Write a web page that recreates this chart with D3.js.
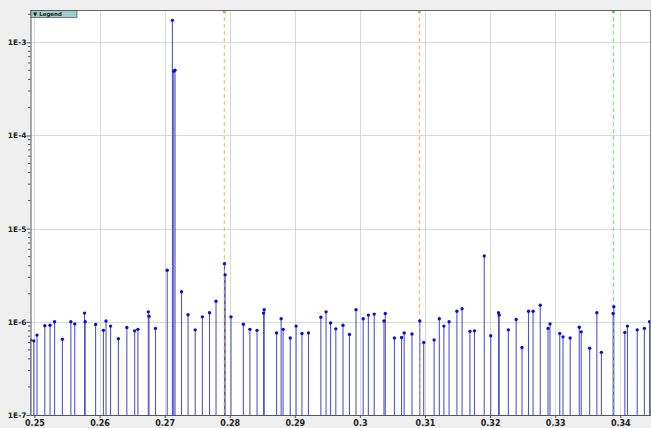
<!DOCTYPE html>
<html>
<head>
<meta charset="utf-8">
<script src="https://cdn.jsdelivr.net/npm/d3@7"></script>
<style>
  body { margin: 0; background: #efefef; }
  svg { display: block; }
  .axis text { font-family: "DejaVu Sans", sans-serif; font-weight: bold; fill: #222; }
  .axis path, .axis line { stroke: #555; }
</style>
</head>
<body>
<script>
// peak positions (x) and intensities (y)
var positions = [0.2494, 0.2499, 0.2504, 0.2516, 0.2524, 0.2531, 0.2543, 0.2556, 0.2562, 0.2577,
  0.2578, 0.2594, 0.2606, 0.2610, 0.2617, 0.2629, 0.2642, 0.2654, 0.2659, 0.2675,
  0.2676, 0.2686, 0.2704, 0.2712, 0.2714, 0.2716, 0.2726, 0.2736, 0.2747, 0.2758, 0.2769,
  0.2779, 0.2792, 0.2793, 0.2802, 0.2821, 0.2831, 0.2842, 0.2852, 0.2853, 0.2872,
  0.2879, 0.2882, 0.2893, 0.2902, 0.2911, 0.2921, 0.2940, 0.2948, 0.2955, 0.2963,
  0.2974, 0.2984, 0.2994, 0.3005, 0.3013, 0.3022, 0.3037, 0.3039, 0.3053, 0.3064,
  0.3068, 0.3080, 0.3092, 0.3098, 0.3114, 0.3122, 0.3129, 0.3137, 0.3149, 0.3157,
  0.3169, 0.3176, 0.3191, 0.3201, 0.3213, 0.3214, 0.3228, 0.3240, 0.3249, 0.3259,
  0.3266, 0.3277, 0.3289, 0.3292, 0.3307, 0.3312, 0.3323, 0.3337, 0.3340, 0.3353,
  0.3364, 0.3371, 0.3389, 0.3390, 0.3407, 0.3411, 0.3426, 0.3437, 0.3445];
var intensities = [6.4e-7, 6.25e-7, 7.2e-7, 9.1e-7, 9.2e-7, 1.0e-6, 6.5e-7, 1.0e-6, 9.5e-7, 1.24e-6,
  1.0e-6, 9.35e-7, 8.1e-7, 1.02e-6, 9.0e-7, 6.6e-7, 8.7e-7, 8.0e-7, 8.3e-7, 1.28e-6,
  1.15e-6, 8.5e-7, 3.57e-6, 1.72e-3, 4.9e-4, 5.0e-4, 2.1e-6, 1.19e-6, 8.2e-7, 1.13e-6, 1.25e-6,
  1.66e-6, 4.2e-6, 3.19e-6, 1.13e-6, 9.4e-7, 8.3e-7, 8.1e-7, 1.24e-6, 1.35e-6, 7.6e-7,
  1.08e-6, 8.3e-7, 6.7e-7, 9.0e-7, 7.5e-7, 7.6e-7, 1.12e-6, 1.28e-6, 9.7e-7, 8.4e-7,
  9.2e-7, 7.3e-7, 1.35e-6, 1.08e-6, 1.18e-6, 1.21e-6, 1.02e-6, 1.23e-6, 6.7e-7, 6.8e-7,
  7.6e-7, 7.4e-7, 1.02e-6, 6.0e-7, 6.4e-7, 1.08e-6, 9.0e-7, 1.0e-6, 1.30e-6, 1.38e-6,
  7.9e-7, 8.0e-7, 5.1e-6, 7.1e-7, 1.25e-6, 1.18e-6, 8.2e-7, 1.06e-6, 5.3e-7, 1.30e-6,
  1.30e-6, 1.51e-6, 8.5e-7, 9.5e-7, 7.5e-7, 6.9e-7, 6.7e-7, 8.75e-7, 7.8e-7, 5.2e-7,
  1.25e-6, 4.7e-7, 1.23e-6, 1.45e-6, 7.7e-7, 9.0e-7, 8.2e-7, 8.5e-7, 1.0e-6];

// marker lines
var markerPositions = [0.27917, 0.30913, 0.33893];
var markerColors = ["#eea540", "#eea540", "#5fd35f"];

// axis ticks
var xTicks = [0.25, 0.26, 0.27, 0.28, 0.29, 0.3, 0.31, 0.32, 0.33, 0.34];
var yTicks = [1e-7, 1e-6, 1e-5, 1e-4, 1e-3];
var yTickLabels = ["1E-7", "1E-6", "1E-5", "1E-4", "1E-3"];

var data = positions.map(function(p, i) { return {x: p, y: intensities[i]}; });

var W = 651, H = 428;
var plot = {left: 30.5, top: 10, right: 650.5, bottom: 415};

var svg = d3.select("body").append("svg")
    .attr("width", W)
    .attr("height", H);

svg.append("rect")
    .attr("width", W).attr("height", H)
    .attr("fill", "#efefef");

var xScale = d3.scaleLinear().domain([0.2494, 0.34464]).range([plot.left, plot.right]);
var yScale = d3.scaleLog().domain([1e-7, 2.22e-3]).range([plot.bottom, plot.top]);

// plot background
svg.append("rect")
    .attr("x", plot.left).attr("y", plot.top)
    .attr("width", plot.right - plot.left).attr("height", plot.bottom - plot.top)
    .attr("fill", "#fff");

svg.append("clipPath").attr("id", "clip")
  .append("rect")
    .attr("x", plot.left).attr("y", plot.top - 2)
    .attr("width", plot.right - plot.left).attr("height", plot.bottom - plot.top + 2);

var g = svg.append("g").attr("clip-path", "url(#clip)");

// grid
g.selectAll(".vgrid")
    .data(xTicks)
    .enter().append("line")
    .attr("x1", function(d) { return Math.round(xScale(d)) + 0.5; })
    .attr("x2", function(d) { return Math.round(xScale(d)) + 0.5; })
    .attr("y1", plot.top).attr("y2", plot.bottom)
    .attr("stroke", "#d9d9d9");

g.selectAll(".hgrid")
    .data(yTicks.slice(1))
    .enter().append("line")
    .attr("x1", plot.left).attr("x2", plot.right)
    .attr("y1", function(d) { return Math.round(yScale(d)) + 0.5; })
    .attr("y2", function(d) { return Math.round(yScale(d)) + 0.5; })
    .attr("stroke", "#d9d9d9");

// stems
g.selectAll(".stem")
    .data(data)
    .enter().append("line")
    .attr("x1", function(d) { return xScale(d.x); })
    .attr("x2", function(d) { return xScale(d.x); })
    .attr("y1", plot.bottom)
    .attr("y2", function(d) { return yScale(d.y); })
    .attr("stroke", "#5656c8")
    .attr("stroke-width", 1.1);

// marker lines
g.selectAll(".marker")
    .data(markerPositions)
    .enter().append("line")
    .attr("x1", function(d) { return xScale(d); })
    .attr("x2", function(d) { return xScale(d); })
    .attr("y1", plot.top).attr("y2", plot.bottom)
    .attr("stroke", function(d, i) { return markerColors[i]; })
    .attr("stroke-dasharray", "4,3")
    .attr("stroke-opacity", 0.85)
    .attr("stroke-width", 1);

g.selectAll(".markerTop")
    .data(markerPositions)
    .enter().append("rect")
    .attr("x", function(d) { return xScale(d) - 1.5; })
    .attr("y", plot.top)
    .attr("width", 3).attr("height", 3)
    .attr("fill", function(d, i) { return markerColors[i]; });

// dots
g.selectAll(".dot")
    .data(data)
    .enter().append("circle")
    .attr("cx", function(d) { return xScale(d.x); })
    .attr("cy", function(d) { return yScale(d.y); })
    .attr("r", 1.7)
    .attr("fill", "#1010cc");

// x-axis
svg.append("g")
    .attr("class", "axis")
    .attr("transform", "translate(0," + plot.bottom + ")")
    .call(d3.axisBottom(xScale).tickValues(xTicks).tickSize(3).tickSizeOuter(0)
      .tickFormat(function(d) { return d3.format("")(+d.toFixed(2)); }))
    .selectAll("text")
    .style("font-size", "8px")
    .attr("dy", "0.6em");

// y-axis
var yAxisG = svg.append("g")
    .attr("class", "axis")
    .attr("transform", "translate(" + plot.left + ",0)")
    .call(d3.axisLeft(yScale).tickValues(yTicks).tickSize(4).tickSizeOuter(0)
      .tickFormat(function(d, i) { return yTickLabels[i]; }));
yAxisG.selectAll("text").style("font-size", "7.5px").attr("x", -4);

// minor y ticks
var minor = [];
yTicks.forEach(function(t) {
  for (var k = 2; k <= 9; k++) {
    if (t * k < 2.22e-3) minor.push(t * k);
  }
});
svg.selectAll(".minor")
    .data(minor)
    .enter().append("line")
    .attr("x1", plot.left - 2.5).attr("x2", plot.left)
    .attr("y1", function(d) { return yScale(d); })
    .attr("y2", function(d) { return yScale(d); })
    .attr("stroke", "#555");

// top and right borders
svg.append("line")
    .attr("x1", plot.left).attr("x2", plot.right)
    .attr("y1", plot.top + 0.5).attr("y2", plot.top + 0.5)
    .attr("stroke", "#666");
svg.append("line")
    .attr("x1", plot.right).attr("x2", plot.right)
    .attr("y1", plot.top).attr("y2", plot.bottom)
    .attr("stroke", "#888");

// legend tab
var legend = svg.append("g").attr("transform", "translate(31,10.5)");
legend.append("rect")
    .attr("width", 46).attr("height", 7)
    .attr("fill", "#9ecfcb")
    .attr("stroke", "#333")
    .attr("stroke-width", 0.6);
legend.append("text")
    .attr("x", 2).attr("y", 5.6)
    .style("font-family", "DejaVu Sans, sans-serif")
    .style("font-size", "5.5px")
    .style("font-weight", "bold")
    .attr("fill", "#222")
    .text("\u25BC Legend");
</script>
</body>
</html>
